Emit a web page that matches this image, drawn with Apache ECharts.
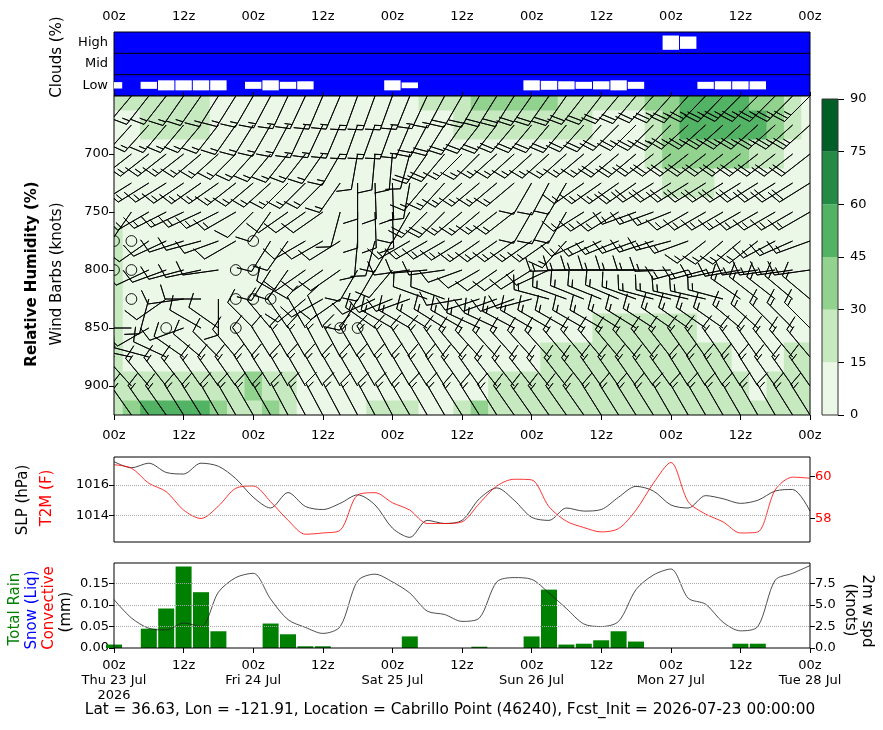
<!DOCTYPE html>
<html>
<head>
<meta charset="utf-8">
<title>Cabrillo Point meteogram</title>
<script src="https://cdn.jsdelivr.net/npm/echarts@6.0.0/dist/echarts.min.js"></script>
<style>
html, body { margin: 0; padding: 0; background: #fff; }
#chart { width: 883px; height: 730px; }
</style>
</head>
<body>
<div id="chart"></div>
<script>
// forecast hours (3-hourly) and pressure levels
var hours = [0,3,6,9,12,15,18,21,24,27,30,33,36,39,42,45,48,51,54,57,60,63,66,69,72,75,78,81,84,87,90,93,96,99,102,105,108,111,114,117,120];
var levels = [650,675,700,725,750,775,800,825,850,875,900,925];
var dayLabels = ['Thu 23 Jul\n2026', 'Fri 24 Jul', 'Sat 25 Jul', 'Sun 26 Jul', 'Mon 27 Jul', 'Tue 28 Jul'];
var cloudRows = ['Low', 'Mid', 'High'];
var cloudBounds = [1, 2];

// cloud cover (%)
var lowCloud  = [30,0,33,47,47,47,47,0,33,47, 33,38,0,0,0,0,47,27,0,0, 0,0,0,0,47,42,38,33,38,47, 33,0,0,0,33,38,38,38,0,0,0];
var midCloud  = [0,0,0,0,0,0,0,0,0,0, 0,0,0,0,0,0,0,0,0,0, 0,0,0,0,0,0,0,0,0,0, 0,0,0,0,0,0,0,0,0,0,0];
var highCloud = [0,0,0,0,0,0,0,0,0,0, 0,0,0,0,0,0,0,0,0,0, 0,0,0,0,0,0,0,0,0,0, 0,0,67,58,0,0,0,0,0,0,0];

// relative humidity (%) per level
var rh650 = [22,22,22,22,22,22,8,8,8,8, 8,8,8,8,8,8,8,8,22,22, 22,37,37,37,37,37,22,22,22,22, 22,37,37,52,52,52,52,37,37,22,8];
var rh675 = [8,8,22,22,22,22,8,8,8,8, 8,8,8,8,8,8,8,8,8,8, 22,22,22,22,22,22,22,22,8,8, 8,22,37,52,52,52,52,52,37,22,8];
var rh700 = [8,8,8,8,8,8,8,8,8,8, 8,8,8,8,8,8,8,8,8,8, 8,8,8,8,8,8,8,8,8,8, 8,22,37,37,37,37,37,22,22,8,8];
var rh725 = [8,8,8,8,8,8,8,8,8,8, 8,8,8,8,8,8,8,8,8,8, 8,8,8,8,8,8,8,8,8,8, 8,8,22,22,22,8,8,8,8,8,8];
var rh750 = [8,8,8,8,8,8,8,8,8,8, 8,8,8,8,8,8,8,8,8,8, 8,8,8,8,8,8,8,8,8,8, 8,8,8,8,8,8,8,8,8,8,8];
var rh775 = [22,8,8,8,8,8,8,8,8,8, 8,8,8,8,8,8,8,8,8,8, 8,8,8,8,8,8,8,8,8,8, 8,8,8,8,8,8,8,8,8,8,8];
var rh800 = [22,8,8,8,8,8,8,8,8,8, 8,8,8,8,8,8,8,8,8,8, 8,8,8,8,8,8,8,8,8,8, 8,8,8,8,8,8,8,8,8,8,8];
var rh825 = [22,8,8,8,8,8,8,8,8,8, 8,8,8,8,8,8,8,8,8,8, 8,8,8,8,8,8,8,8,8,8, 8,8,8,8,8,8,8,8,8,8,8];
var rh850 = [22,8,8,8,8,8,8,8,8,8, 8,8,8,8,8,8,8,8,8,8, 8,8,8,8,8,8,8,8,22,22, 22,22,22,22,8,8,8,8,8,8,8];
var rh875 = [22,8,8,8,8,8,8,8,8,8, 8,8,8,8,8,8,8,8,8,8, 8,8,8,8,8,22,22,22,22,22, 22,22,22,22,22,22,8,8,8,22,22];
var rh900 = [22,22,22,22,22,22,22,22,37,22, 22,8,8,8,8,8,8,8,8,8, 8,8,22,22,22,22,22,22,22,22, 22,22,22,22,22,22,22,8,22,22,22];
var rh925 = [22,37,52,52,52,52,37,22,22,37, 22,8,8,8,8,22,22,22,8,8, 22,37,22,22,22,22,22,22,22,22, 22,22,22,22,22,22,22,22,22,22,22];

// wind direction (deg, from) per level
var dir650 = [220,220,218,218,215,215,212,212,210,208, 205,205,203,203,200,200,200,202,205,208, 210,210,212,212,215,215,215,218,218,220, 220,222,222,222,224,224,225,225,225,225,225];
var dir675 = [222,222,222,220,220,220,218,215,212,210, 208,205,205,203,200,200,200,203,208,212, 215,218,218,220,220,220,220,222,222,225, 225,225,225,228,228,228,228,228,228,228,228];
var dir700 = [230,232,232,232,232,230,228,225,222,220, 218,218,215,210,190,185,185,195,215,220, 225,225,228,228,228,228,228,230,230,230, 230,232,232,232,232,232,232,232,232,232,232];
var dir725 = [235,238,238,238,236,235,235,232,230,228, 225,225,225,215,180,178,178,190,220,222, 228,230,230,230,210,208,210,235,235,235, 235,238,238,238,238,238,238,238,238,238,238];
var dir750 = [210,215,240,243,245,245,243,240,225,215, 235,235,235,195,180,178,178,210,225,225, 230,230,232,232,210,208,210,238,238,238, 250,250,248,240,240,240,240,240,240,240,240];
var dir775 = [0,0,235,245,252,255,250,240,0,212, 215,240,240,238,185,195,210,240,240,240, 238,235,235,235,235,235,222,245,245,248, 250,252,255,250,232,230,230,232,242,246,250];
var dir800 = [0,0,245,250,255,258,262,0,0,212, 215,235,235,235,210,210,220,262,265,262, 250,240,235,235,238,245,268,270,270,270, 270,270,268,255,255,258,260,262,262,262,262];
var dir825 = [300,0,195,235,262,270,180,0,0,0, 300,230,240,235,210,245,248,250,290,290, 260,252,250,250,255,285,290,292,292,293, 290,285,285,283,283,285,305,308,308,310,310];
var dir850 = [275,270,240,0,250,300,305,0,315,320, 325,330,335,0,0,305,300,300,302,302, 300,295,295,298,300,300,300,300,300,302, 302,303,305,305,305,305,310,312,315,315,315];
var dir875 = [280,282,285,295,305,310,315,320,325,328, 330,330,332,332,330,330,330,328,328,325, 320,318,318,318,318,318,320,320,320,320, 320,322,322,325,325,325,325,325,322,320,320];
var dir900 = [315,318,320,322,322,325,325,325,328,328, 330,330,330,330,330,330,330,330,328,328, 325,325,322,322,322,322,322,322,325,325, 325,325,325,328,328,328,328,328,325,325,325];
var dir925 = [325,325,325,325,328,328,330,330,330,330, 332,332,332,332,332,332,332,330,330,330, 328,328,328,325,325,325,325,325,328,328, 328,328,330,330,330,330,330,330,330,328,328];

// wind speed (knots) per level
var spd650 = [15,15,15,15,15,15,15,15,15,15, 15,15,15,15,15,15,15,15,15,15, 20,20,20,20,20,20,20,20,20,20, 20,20,25,25,25,25,25,25,25,25,25];
var spd675 = [15,15,15,15,15,15,15,15,15,15, 15,15,15,15,15,15,15,15,20,20, 20,20,20,20,20,20,20,20,20,20, 25,25,25,25,25,25,25,25,25,25,25];
var spd700 = [15,15,15,15,15,15,15,15,15,15, 15,15,15,15,10,10,10,10,20,20, 15,15,15,15,15,15,15,15,15,20, 20,20,20,20,20,20,20,20,20,20,20];
var spd725 = [15,15,15,15,15,15,15,15,15,15, 15,15,15,15,10,10,10,10,15,15, 15,15,15,15,10,10,10,15,15,15, 20,20,20,20,20,20,20,20,20,20,20];
var spd750 = [10,10,15,15,15,15,15,15,10,10, 10,10,10,10,10,10,10,10,20,20, 15,15,15,15,10,10,10,15,15,15, 15,15,15,15,15,15,15,15,15,15,15];
var spd775 = [0,0,10,10,10,10,10,10,0,10, 10,10,10,10,10,10,10,15,15,15, 15,15,15,15,15,15,15,15,15,15, 15,15,15,15,15,15,15,15,15,15,15];
var spd800 = [0,0,10,10,10,10,10,0,0,10, 10,10,10,10,10,10,10,10,10,10, 10,10,10,10,10,10,15,15,15,15, 15,15,15,15,15,15,15,15,15,15,15];
var spd825 = [10,0,10,10,10,10,10,0,0,0, 10,10,10,10,10,10,10,10,10,10, 10,10,10,10,10,15,15,15,15,15, 15,15,15,15,15,15,15,15,15,15,15];
var spd850 = [10,10,10,0,10,10,10,0,10,10, 10,10,10,0,0,15,15,15,15,15, 15,15,15,15,15,15,15,15,15,15, 15,15,15,15,15,15,15,15,15,15,15];
var spd875 = [10,10,10,10,10,10,10,10,10,10, 15,15,15,15,15,15,15,15,15,15, 15,15,15,15,15,15,15,15,15,15, 15,15,15,15,15,15,15,15,15,15,15];
var spd900 = [15,15,15,15,15,15,15,15,15,15, 15,15,15,15,15,15,15,15,15,15, 15,15,15,15,15,15,15,15,15,15, 15,15,15,15,15,15,15,15,15,15,15];
var spd925 = [15,15,15,15,15,15,15,15,15,15, 15,15,15,15,15,15,15,15,15,15, 15,15,15,15,15,15,15,15,15,15, 15,15,15,15,15,15,15,15,15,15,15];

// surface
var slp = [1017.5,1017.1,1017.4,1016.8,1016.7,1017.4,1017.2,1016.4,1015.2,1014.5, 1015.5,1014.6,1014.4,1014.8,1015.35,1014.7,1013.2,1012.6,1013.7,1013.5, 1013.7,1015.1,1015.8,1015.0,1013.9,1013.7,1014.5,1014.3,1014.4,1015.2, 1015.9,1015.6,1014.7,1014.5,1015.3,1015.1,1014.8,1015.0,1015.6,1015.7,1014.3];
var t2m = [60.56,60.4,59.68,59.28,58.4,58.0,58.59,59.44,59.55,58.8, 57.92,57.25,57.31,57.44,59.12,59.23,58.75,58.4,57.76,57.76, 57.84,58.72,59.55,59.87,59.84,58.56,57.87,57.57,57.36,57.52, 58.4,59.68,60.67,58.8,58.21,57.84,57.31,57.36,59.36,59.97,59.92];
var precip = [0.008,0,0.045,0.092,0.19,0.13,0.039,0,0,0.057, 0.032,0.004,0.004,0,0,0,0,0.027,0,0, 0,0.003,0,0,0.027,0.136,0.008,0.01,0.018,0.039, 0.015,0,0,0,0,0,0.01,0.01,0,0,0];
var wind2m = [5.64,3.5,2.3,2.1,2.9,2.5,6.5,8.2,8.7,5.7, 3.3,2.4,1.7,2.5,7.8,8.6,7.7,6.4,4.3,3.9, 3.1,3.5,7.7,8.2,8.0,6.4,4.6,2.8,2.5,3.1, 6.8,8.5,9.2,5.8,5.1,3.0,2.0,2.5,7.9,8.7,9.6];

var cbLevels = [0,15,30,45,60,75,90];
var cbColors = ['#ebf7e7','#c7e9c0','#92d28f','#52b365','#238b45','#005f26'];

var FONT = 'DejaVu Sans';
var BL = 36; // barb length px

var rhRows = [rh650,rh675,rh700,rh725,rh750,rh775,rh800,rh825,rh850,rh875,rh900,rh925];
var dirRows = [dir650,dir675,dir700,dir725,dir750,dir775,dir800,dir825,dir850,dir875,dir900,dir925];
var spdRows = [spd650,spd675,spd700,spd725,spd750,spd775,spd800,spd825,spd850,spd875,spd900,spd925];

var rhData = [], barbData = [], cloudData = [];
levels.forEach(function (p, j) {
    hours.forEach(function (t, i) {
        rhData.push([t, p, rhRows[j][i]]);
        barbData.push([t, p, dirRows[j][i], spdRows[j][i]]);
    });
});
[lowCloud, midCloud, highCloud].forEach(function (arr, row) {
    arr.forEach(function (v, i) {
        if (v > 0) cloudData.push([hours[i], row + 0.5, v]);
    });
});

function rhColor (v) {
    for (var k = 1; k < cbLevels.length; k++) {
        if (v < cbLevels[k]) return cbColors[k - 1];
    }
    return cbColors[cbColors.length - 1];
}

function sysRect (params) {
    var c = params.coordSys;
    return { x: c.x, y: c.y, width: c.width, height: c.height };
}

function zLabel (v) {
    return (v % 24 === 0) ? '00z' : '12z';
}

function cloudItem (params, api) {
    var c = api.coord([api.value(0), api.value(1)]);
    var s = api.size([3, 1]);
    var h = api.value(2) / 100 * s[1];
    var r = echarts.graphic.clipRectByRect(
        { x: c[0] - s[0] / 2 + 0.5, y: c[1] - h / 2, width: s[0] - 1, height: h }, sysRect(params));
    if (!r) return null;
    return { type: 'rect', shape: r, style: { fill: '#fff' } };
}

function rhItem (params, api) {
    var t = api.value(0), p = api.value(1);
    var a = api.coord([t - 1.5, p - 12.5]);
    var b = api.coord([t + 1.5, p + 12.5]);
    var r = echarts.graphic.clipRectByRect({
        x: a[0], y: Math.min(a[1], b[1]),
        width: b[0] - a[0] + 0.6, height: Math.abs(b[1] - a[1]) + 0.6
    }, sysRect(params));
    if (!r) return null;
    return { type: 'rect', shape: r, style: { fill: rhColor(api.value(2)) } };
}

// matplotlib-style wind barb
function barbItem (params, api) {
    var c = api.coord([api.value(0), api.value(1)]);
    var n = Math.round(api.value(3) / 5) * 5;
    if (n < 5) {
        return { type: 'circle', shape: { cx: c[0], cy: c[1], r: 0.15 * BL },
            style: { stroke: '#000', fill: 'none', lineWidth: 0.9 } };
    }
    var d = api.value(2) * Math.PI / 180;
    var ux = Math.sin(d), uy = -Math.cos(d);
    var px = Math.cos(d), py = Math.sin(d);
    function P (lx, ly) { return [c[0] + ly * ux + lx * px, c[1] + ly * uy + lx * py]; }
    var H = 0.4 * BL, W = 0.25 * BL, S = 0.125 * BL;
    var nf = Math.floor(n / 50), rem = n - nf * 50;
    var nb = Math.floor(rem / 10), hb = (rem - nb * 10) >= 5;
    var pts = [P(0, 0)];
    var off = BL;
    for (var f = 0; f < nf; f++) {
        if (off !== BL) off += S / 2;
        pts.push(P(0, off), P(H, off - W / 2), P(0, off - W));
        off -= W + S;
    }
    for (var b = 0; b < nb; b++) {
        pts.push(P(0, off), P(H, off + W / 2), P(0, off));
        off -= S;
    }
    if (hb) {
        if (off === BL) { pts.push(P(0, off)); off -= 1.5 * S; }
        pts.push(P(0, off), P(H / 2, off + W / 4), P(0, off));
    }
    return { type: 'polygon', shape: { points: pts },
        style: { fill: '#000', stroke: '#000', lineWidth: 0.9 } };
}

function rotText (x, y, text, color, rot, bold) {
    return { type: 'text', x: x, y: y, rotation: rot, style: {
        text: text, fill: color, font: (bold ? 'bold ' : '') + '15px "DejaVu Sans"',
        align: 'center', verticalAlign: 'middle' } };
}

var chart = echarts.init(document.getElementById('chart'));

var timeAxisBase = { type: 'value', min: 0, max: 120, interval: 12,
    axisLine: { show: false }, splitLine: { show: false } };

// row separators of the cloud panel, drawn as plain line series
var sepSeries = cloudBounds.map(function (v) {
    return { type: 'line', xAxisIndex: 0, yAxisIndex: 0, data: [[0, v], [120, v]],
        showSymbol: false, silent: true, z: 6, lineStyle: { color: '#000', width: 1 } };
});

var option = {
    animation: false,
    backgroundColor: '#fff',
    textStyle: { fontFamily: FONT, color: '#000' },
    grid: [
        { left: 114, top: 32, width: 696, height: 64, show: true, borderColor: '#000', borderWidth: 1, backgroundColor: '#0000ff' },
        { left: 114, top: 96, width: 696, height: 319, show: true, borderColor: '#000', borderWidth: 1, backgroundColor: 'transparent', z: 10 },
        { left: 114, top: 457, width: 696, height: 85, show: true, borderColor: '#000', borderWidth: 1, backgroundColor: 'transparent', z: 10 },
        { left: 114, top: 563, width: 696, height: 85, show: true, borderColor: '#000', borderWidth: 1, backgroundColor: 'transparent', z: 10 },
        { left: 822, top: 99, width: 16, height: 316, show: true, borderColor: '#333', borderWidth: 1, backgroundColor: 'transparent', z: 10 }
    ],
    xAxis: [
        Object.assign({}, timeAxisBase, { gridIndex: 0, position: 'top',
            axisTick: { show: true, length: 4, lineStyle: { color: '#000' } },
            axisLabel: { formatter: zLabel, margin: 9, fontSize: 13, color: '#000' } }),
        Object.assign({}, timeAxisBase, { gridIndex: 1,
            axisTick: { show: true, length: 5, lineStyle: { color: '#000' } },
            axisLabel: { formatter: zLabel, margin: 14, fontSize: 13, color: '#000' } }),
        Object.assign({}, timeAxisBase, { gridIndex: 2,
            axisTick: { show: false }, axisLabel: { show: false } }),
        Object.assign({}, timeAxisBase, { gridIndex: 3,
            axisTick: { show: true, length: 5, lineStyle: { color: '#000' } },
            axisLabel: { margin: 10, fontSize: 13, color: '#000', lineHeight: 15,
                formatter: function (v) { return v % 24 === 0 ? '00z\n' + dayLabels[v / 24] : '12z'; } } }),
        { gridIndex: 4, type: 'category', data: ['cb'], show: false }
    ],
    yAxis: [
        { gridIndex: 0, type: 'value', min: 0, max: 3,
            axisLine: { show: false }, axisTick: { show: false },
            axisLabel: { margin: 6, fontSize: 13, color: '#000', customValues: [0.5, 1.5, 2.5],
                formatter: function (v) { return cloudRows[Math.floor(v)]; } },
            splitLine: { show: false } },
        { gridIndex: 1, type: 'value', inverse: true, min: 650, max: 925,
            axisLine: { show: false }, splitLine: { show: false },
            axisTick: { show: true, length: 5, lineStyle: { color: '#000' }, customValues: [700, 750, 800, 850, 900] },
            axisLabel: { margin: 5, fontSize: 13, color: '#000', customValues: [700, 750, 800, 850, 900] } },
        { gridIndex: 2, type: 'value', min: 1012.3, max: 1017.8,
            axisLine: { show: false }, splitLine: { show: false },
            axisTick: { show: true, length: 5, lineStyle: { color: '#000' }, customValues: [1014, 1016] },
            axisLabel: { margin: 5, fontSize: 13, color: '#000', customValues: [1014, 1016],
                formatter: function (v) { return String(Math.round(v)); } } },
        { gridIndex: 2, type: 'value', min: 56.88, max: 60.93, position: 'right',
            axisLine: { show: false }, splitLine: { show: false },
            axisTick: { show: true, length: 5, lineStyle: { color: '#000' }, customValues: [58, 60] },
            axisLabel: { margin: 5, fontSize: 13, color: '#ff0000', customValues: [58, 60] } },
        { gridIndex: 3, type: 'value', min: 0, max: 0.198,
            axisLine: { show: false }, splitLine: { show: false },
            axisTick: { show: true, length: 5, lineStyle: { color: '#000' }, customValues: [0, 0.05, 0.1, 0.15] },
            axisLabel: { margin: 5, fontSize: 13, color: '#000', customValues: [0, 0.05, 0.1, 0.15],
                formatter: function (v) { return v.toFixed(2); } } },
        { gridIndex: 3, type: 'value', min: 0, max: 9.9, position: 'right',
            axisLine: { show: false }, splitLine: { show: false },
            axisTick: { show: true, length: 5, lineStyle: { color: '#000' }, customValues: [0, 2.5, 5, 7.5] },
            axisLabel: { margin: 5, fontSize: 13, color: '#000', customValues: [0, 2.5, 5, 7.5],
                formatter: function (v) { return v.toFixed(1); } } },
        { gridIndex: 4, type: 'value', min: 0, max: 90, interval: 15, position: 'right',
            axisLine: { show: false }, splitLine: { show: false },
            axisTick: { show: true, length: 6, lineStyle: { color: '#000' } },
            axisLabel: { margin: 12, fontSize: 13, color: '#000' } }
    ],
    series: [
        { type: 'custom', xAxisIndex: 0, yAxisIndex: 0, renderItem: cloudItem, data: cloudData, z: 2, silent: true },
        { type: 'custom', xAxisIndex: 1, yAxisIndex: 1, renderItem: rhItem, data: rhData, z: 1, silent: true },
        { type: 'custom', xAxisIndex: 1, yAxisIndex: 1, renderItem: barbItem, data: barbData, z: 3, clip: true, silent: true },
        { type: 'line', xAxisIndex: 2, yAxisIndex: 2, data: hours.map(function (t, i) { return [t, slp[i]]; }),
            showSymbol: false, smooth: 0.3, lineStyle: { color: '#333', width: 0.9 }, silent: true,
            markLine: { silent: true, symbol: 'none', label: { show: false },
                lineStyle: { type: 'dotted', color: '#aaa', width: 1 },
                data: [{ yAxis: 1014 }, { yAxis: 1016 }] } },
        { type: 'line', xAxisIndex: 2, yAxisIndex: 3, data: hours.map(function (t, i) { return [t, t2m[i]]; }),
            showSymbol: false, smooth: 0.3, lineStyle: { color: '#ff0000', width: 0.8 }, silent: true },
        { type: 'bar', xAxisIndex: 3, yAxisIndex: 4, data: hours.map(function (t, i) { return [t, precip[i]]; }),
            barWidth: 16, itemStyle: { color: '#008000' }, silent: true,
            markLine: { silent: true, symbol: 'none', label: { show: false },
                lineStyle: { type: 'dotted', color: '#aaa', width: 1 },
                data: [{ yAxis: 0.05 }, { yAxis: 0.1 }, { yAxis: 0.15 }] } },
        { type: 'line', xAxisIndex: 3, yAxisIndex: 5, data: hours.map(function (t, i) { return [t, wind2m[i]]; }),
            showSymbol: false, smooth: 0.3, lineStyle: { color: '#222', width: 0.8 }, silent: true, z: 4 }
    ].concat(sepSeries).concat(cbColors.map(function (col, k) {
        return { type: 'bar', xAxisIndex: 4, yAxisIndex: 6, stack: 'cb', barWidth: '100%', silent: true,
            data: [cbLevels[k + 1] - cbLevels[k]], itemStyle: { color: col } };
    })),
    graphic: [
        rotText(57, 57, 'Clouds (%)', '#000', Math.PI / 2),
        rotText(32, 274, 'Relative Humidity (%)', '#000', Math.PI / 2, true),
        rotText(57, 274, 'Wind Barbs (knots)', '#000', Math.PI / 2),
        rotText(23, 500, 'SLP (hPa)', '#000', Math.PI / 2),
        rotText(47, 498, 'T2M (F)', '#ff0000', Math.PI / 2),
        rotText(15, 609, 'Total Rain', '#008000', Math.PI / 2),
        rotText(32, 610, 'Snow (Liq)', '#0000ff', Math.PI / 2),
        rotText(49, 608, 'Convective', '#ff0000', Math.PI / 2),
        rotText(66, 612, '(mm)', '#000', Math.PI / 2),
        rotText(867, 611, '2m w spd', '#000', -Math.PI / 2),
        rotText(850, 610, '(knots)', '#000', -Math.PI / 2),
        { type: 'text', x: 450, y: 710, style: { text: 'Lat = 36.63, Lon = -121.91, Location = Cabrillo Point (46240), Fcst_Init = 2026-07-23 00:00:00',
            font: '15.3px "DejaVu Sans"', fill: '#000', align: 'center', verticalAlign: 'middle' } }
    ]
};

chart.setOption(option);
</script>
</body>
</html>
